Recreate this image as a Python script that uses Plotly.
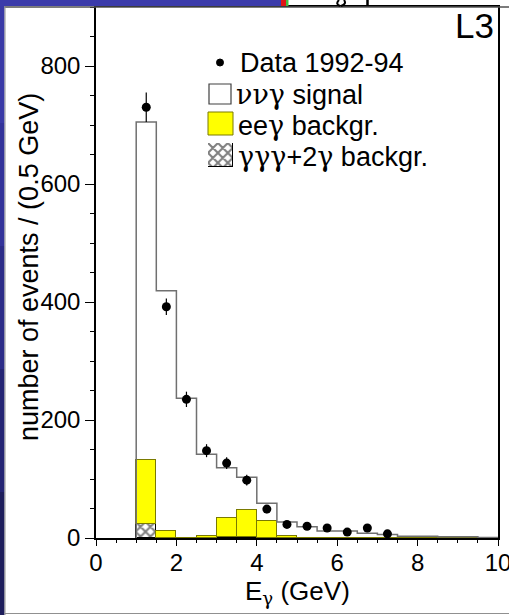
import plotly.graph_objects as go

# ---------------- data ----------------
bin_lo = [1.0, 1.5, 2.0, 2.5, 3.0, 3.5, 4.0, 4.5, 5.0, 5.5, 6.0, 6.5, 7.0, 7.5, 8.0, 8.5, 9.0, 9.5]
bin_width = 0.5
total_mc = [705, 419, 237, 142, 119, 103, 59, 27, 19, 12, 12, 8, 6, 3, 3, 2, 2, 1]   # nunugamma signal + backgrounds (outline)
eeg_bkg = [108, 12, 0, 3, 32, 45, 29, 3, 0, 0, 0, 0, 0, 0, 0, 0, 0, 0]              # ee gamma background
ggg_bkg = [24, 0, 0, 0, 2, 2, 0, 0, 0, 0, 0, 0, 0, 0, 0, 0, 0, 0]                  # gamma gamma gamma + 2 gamma

data_x = [1.25, 1.75, 2.25, 2.75, 3.25, 3.75, 4.25, 4.75, 5.25, 5.75, 6.25, 6.75, 7.25]
data_y = [730, 392, 235, 148, 127, 98, 49, 23, 20, 17, 10, 17, 7]
data_err = [25, 14, 13, 11, 10, 9, 7, 5, 4, 4, 3, 4, 3]

x_ticks = [0, 2, 4, 6, 8, 10]
y_ticks = [0, 200, 400, 600, 800]

FONT = "Liberation Sans, Arial, Helvetica, sans-serif"
GREEK = "DejaVu Serif, serif"

W, H = 509, 615
ML, MR, MT, MB = 96, 11, 7, 77
PW, PH = W - ML - MR, H - MT - MB


def px(x):
    return (x - ML) / PW


def py(y):
    return (H - MB - y) / PH


def gk(s):
    return '<span style="font-family:%s">%s</span>' % (GREEK, s)


centers = [lo + bin_width / 2 for lo in bin_lo]
edges_end = bin_lo[-1] + bin_width

fig = go.Figure()

hatch = dict(shape="x", fgcolor="black", bgcolor="white", size=7, solidity=0.5)

# gamma gamma gamma + 2 gamma background (hatched)
fig.add_trace(go.Bar(
    x=centers, y=ggg_bkg, width=bin_width,
    marker=dict(color="white", line=dict(color="black", width=1), pattern=hatch),
    showlegend=False, hoverinfo="skip"))

# ee gamma background (yellow)
fig.add_trace(go.Bar(
    x=centers, y=eeg_bkg, width=bin_width, base=ggg_bkg,
    marker=dict(color="#ffff00", line=dict(color="#7a7a00", width=1)),
    showlegend=False, hoverinfo="skip"))

# signal outline as step histogram
step_x = [bin_lo[0]] + bin_lo + [edges_end, edges_end]
step_y = [0] + total_mc + [total_mc[-1], 0]
fig.add_trace(go.Scatter(
    x=step_x, y=step_y, mode="lines", line=dict(shape="hv", color="#707070", width=1.5),
    showlegend=False, hoverinfo="skip"))

# data
fig.add_trace(go.Scatter(
    x=data_x, y=data_y, mode="markers",
    marker=dict(color="black", size=9),
    error_y=dict(type="data", array=data_err, color="black", thickness=1.2, width=0),
    showlegend=False))

# hatched legend swatch on a small overlay axis
fig.add_trace(go.Bar(
    x=[0.5], y=[1], width=[1], xaxis="x2", yaxis="y2",
    marker=dict(color="white", line=dict(color="black", width=1.2), pattern=hatch),
    showlegend=False, hoverinfo="skip"))

shapes = []
# slide decorations
blue_steps = ["#3a3aa6", "#33339a", "#2c2c88", "#252574", "#1e1e5c"]
n = len(blue_steps)
for i, c in enumerate(blue_steps):
    y0 = i * H / n
    y1 = (i + 1) * H / n
    shapes.append(dict(type="rect", xref="paper", yref="paper", x0=px(0), x1=px(4.5),
                       y0=py(y1), y1=py(y0), fillcolor=c, line=dict(width=0), layer="above"))
shapes.append(dict(type="rect", xref="paper", yref="paper", x0=px(0), x1=px(281), y0=py(6), y1=py(0),
                   fillcolor="#3b3baa", line=dict(width=0), layer="above"))
shapes.append(dict(type="rect", xref="paper", yref="paper", x0=px(281), x1=px(286), y0=py(6), y1=py(0),
                   fillcolor="#e01515", line=dict(width=0), layer="above"))
shapes.append(dict(type="rect", xref="paper", yref="paper", x0=px(286), x1=px(288.5), y0=py(6), y1=py(0),
                   fillcolor="#40c040", line=dict(width=0), layer="above"))
# panel border lines
shapes.append(dict(type="line", xref="paper", yref="paper", x0=px(4.5), x1=px(509), y0=py(7), y1=py(7),
                   line=dict(color="#505050", width=1.5), layer="above"))
shapes.append(dict(type="line", xref="paper", yref="paper", x0=px(5), x1=px(5), y0=py(7), y1=py(615),
                   line=dict(color="#909090", width=1), layer="above"))
shapes.append(dict(type="line", xref="paper", yref="paper", x0=px(5), x1=px(509), y0=py(613.5), y1=py(613.5),
                   line=dict(color="#909090", width=1), layer="above"))
# cut-off glyph fragments at top
shapes.append(dict(type="path", xref="paper", yref="paper",
                   path="M {a},{b} Q {c},{d} {e},{f}".format(a=px(339), b=py(0), c=px(335), d=py(4), e=px(340), f=py(6)),
                   line=dict(color="black", width=2), layer="above"))
shapes.append(dict(type="path", xref="paper", yref="paper",
                   path="M {a},{b} Q {c},{d} {e},{f}".format(a=px(344), b=py(0), c=px(347), d=py(4), e=px(341), f=py(6)),
                   line=dict(color="black", width=2), layer="above"))
shapes.append(dict(type="line", xref="paper", yref="paper", x0=px(367.5), x1=px(367.5), y0=py(0), y1=py(6),
                   line=dict(color="black", width=2.5), layer="above"))

# legend symbols
shapes.append(dict(type="circle", xref="paper", yref="paper", x0=px(216.5), x1=px(223.5), y0=py(66), y1=py(59),
                   fillcolor="black", line=dict(color="black", width=1)))
shapes.append(dict(type="rect", xref="paper", yref="paper", x0=px(209), x1=px(231), y0=py(104), y1=py(84),
                   fillcolor="white", line=dict(color="#404040", width=1.2)))
shapes.append(dict(type="rect", xref="paper", yref="paper", x0=px(208), x1=px(233), y0=py(135), y1=py(112),
                   fillcolor="#ffff00", line=dict(color="#7a7a00", width=1)))

annotations = []
leg = [("Data 1992-94", 238, 63),
       (gk("\u03bd\u03bd\u03b3") + " signal", 234, 95),
       ("ee" + gk("\u03b3") + " backgr.", 236, 125),
       (gk("\u03b3\u03b3\u03b3") + "+2" + gk("\u03b3") + " backgr.", 236, 156)]
for txt, x0, yc in leg:
    annotations.append(dict(text=txt, xref="paper", yref="paper", x=px(x0), y=py(yc),
                            xanchor="left", yanchor="middle", showarrow=False,
                            font=dict(family=FONT, size=27, color="black")))
annotations.append(dict(text="L3", xref="paper", yref="paper", x=px(496), y=py(25),
                        xanchor="right", yanchor="middle", showarrow=False,
                        font=dict(family=FONT, size=35, color="black")))
annotations.append(dict(text="number of events / (0.5 GeV)", xref="paper", yref="paper",
                        x=px(29), y=py(267), textangle=-90, xanchor="center", yanchor="middle",
                        showarrow=False, font=dict(family=FONT, size=27, color="black")))
annotations.append(dict(text="E<sub>" + gk("\u03b3") + "</sub> (GeV)", xref="paper", yref="paper",
                        x=px(297), y=py(592), xanchor="center", yanchor="middle",
                        showarrow=False, font=dict(family=FONT, size=26, color="black")))

fig.update_layout(
    width=W, height=H,
    margin=dict(l=ML, r=MR, t=MT, b=MB, pad=0, autoexpand=False),
    paper_bgcolor="white", plot_bgcolor="white",
    barmode="stack", bargap=0,
    showlegend=False,
    shapes=shapes, annotations=annotations,
    font=dict(family=FONT, color="black"),
    xaxis=dict(range=[0, 10], tickvals=x_ticks, ticktext=[str(v) for v in x_ticks],
               ticks="outside", ticklen=6, tickwidth=1.2, tickcolor="black",
               minor=dict(dtick=0.5, ticks="outside", ticklen=3, tickcolor="black", tickwidth=1),
               showline=True, linecolor="black", linewidth=1.8, mirror=True,
               showgrid=False, zeroline=False, tickfont=dict(size=24, family=FONT),
               ticklabelstandoff=-4, ticklabeloverflow="allow", automargin=False),
    yaxis=dict(range=[0, 900], tickvals=y_ticks, ticktext=[str(v) for v in y_ticks],
               ticks="outside", ticklen=9, tickwidth=1.2, tickcolor="black",
               minor=dict(dtick=50, ticks="outside", ticklen=4, tickcolor="black", tickwidth=1),
               showline=True, linecolor="black", linewidth=1.5, mirror=True,
               showgrid=False, zeroline=False, tickfont=dict(size=24, family=FONT),
               automargin=False),
    xaxis2=dict(domain=[px(208), px(233)], range=[0, 1], visible=False, anchor="y2", fixedrange=True),
    yaxis2=dict(domain=[py(167), py(143)], range=[0, 1], visible=False, anchor="x2", fixedrange=True),
)

fig.write_html("out.html", config={"displayModeBar": False},
               post_script="document.body.style.margin='0';document.body.style.padding='0';"
                           "document.body.style.overflow='hidden';")
